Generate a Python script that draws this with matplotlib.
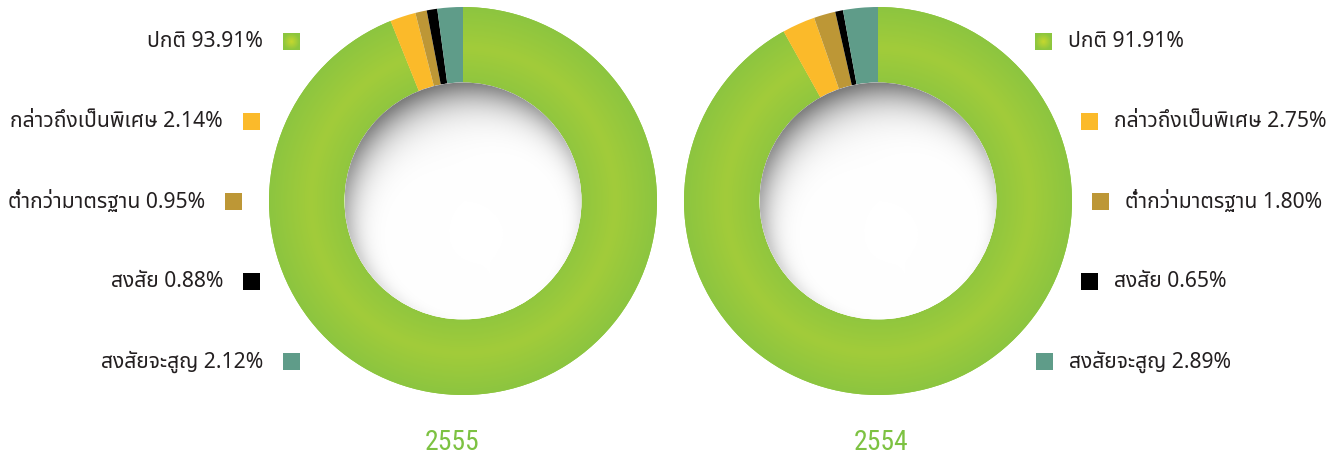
import numpy as np
import matplotlib
matplotlib.use('Agg')
import matplotlib.pyplot as plt
from matplotlib import font_manager
from matplotlib.patches import Wedge, Circle, Rectangle

# data
years = ['2555', '2554']
labels = ['ปกติ', 'กล่าวถึงเป็นพิเศษ', 'ต่ำกว่ามาตรฐาน', 'สงสัย', 'สงสัยจะสูญ']
vals_2555 = [93.91, 2.14, 0.95, 0.88, 2.12]
vals_2554 = [91.91, 2.75, 1.80, 0.65, 2.89]
colors = ['#8DC63F', '#FBBA2A', '#BD9736', '#000000', '#5F9C89']

# pick fonts that exist
names = {f.name for f in font_manager.fontManager.ttflist}
def pick(cands):
    for c in cands:
        if c in names:
            return c
    return 'DejaVu Sans'
thai_font = pick(['Noto Sans Thai', 'IBM Plex Sans Thai', 'Sarabun', 'Prompt'])
year_font = pick(['Roboto Condensed', 'Open Sans Condensed', 'Roboto'])

W, H = 1338, 461
fig = plt.figure(figsize=(W / 100, H / 100), dpi=100)
ax = fig.add_axes([0, 0, 1, 1])
ax.set_xlim(0, W)
ax.set_ylim(0, H)
ax.axis('off')

R_OUT = 194
R_IN = 118.5


def green_gradient(cx, cy, wedge):
    # radial shading on the big green slice
    x0, x1 = cx - R_OUT, cx + R_OUT
    y0, y1 = cy - R_OUT, cy + R_OUT
    xx, yy = np.meshgrid(np.linspace(x0, x1, 400), np.linspace(y0, y1, 400))
    r = np.hypot(xx - cx, yy - cy)
    t = np.clip((r - R_IN) / (R_OUT - R_IN), 0, 1)
    t = 1 - np.abs(t - 0.45) / 0.55
    c_edge = np.array([0x8C, 0xC5, 0x40]) / 255
    c_mid = np.array([0xA2, 0xCC, 0x3A]) / 255
    img = c_edge[None, None, :] * (1 - t[..., None]) + c_mid[None, None, :] * t[..., None]
    im = ax.imshow(img, extent=(x0, x1, y0, y1), origin='lower', zorder=2, interpolation='bilinear')
    im.set_clip_path(wedge)


def hole_shadow(cx, cy):
    # soft inner shadow, strongest at the top-left edge of the hole
    x0, x1 = cx - R_IN, cx + R_IN
    y0, y1 = cy - R_IN, cy + R_IN
    xx, yy = np.meshgrid(np.linspace(x0, x1, 500), np.linspace(y0, y1, 500))
    dx, dy = xx - cx, yy - cy
    d_edge = np.clip(R_IN - np.hypot(dx, dy), 0, None)
    ang = np.arctan2(dy, dx)
    dirf = np.clip(0.5 + 0.5 * np.cos(ang - np.radians(110)), 0, 1) ** 1.3
    k = 4 + 20 * dirf
    s = dirf * np.exp(-(d_edge / k) ** 1.3)
    g = 1 - 0.52 * s
    img = np.dstack([g, g, g])
    im = ax.imshow(img, extent=(x0, x1, y0, y1), origin='lower', zorder=4, interpolation='bilinear')
    circ = Circle((cx, cy), R_IN, transform=ax.transData)
    im.set_clip_path(circ)


def donut(cx, cy, vals):
    fracs = np.array(vals) / np.sum(vals)
    start = 90.0
    for i, f in enumerate(fracs):
        end = start - f * 360
        w = Wedge((cx, cy), R_OUT, end, start, width=R_OUT - R_IN,
                  facecolor=colors[i], edgecolor='none', zorder=3 if i else 1)
        ax.add_patch(w)
        if i == 0:
            green_gradient(cx, cy, w)
        start = end
    ax.add_patch(Circle((cx, cy), R_IN, facecolor='white', edgecolor='none', zorder=3.5))
    hole_shadow(cx, cy)


def square(x, ytop, color, green=False):
    y = H - ytop - 17
    if green:
        xx, yy = np.meshgrid(np.linspace(-1, 1, 40), np.linspace(-1, 1, 40))
        t = np.clip(np.hypot(xx, yy), 0, 1)
        c_in = np.array([0xC6, 0xD8, 0x2E]) / 255
        c_out = np.array([0x8C, 0xC6, 0x3F]) / 255
        img = c_in * (1 - t[..., None]) + c_out * t[..., None]
        ax.imshow(img, extent=(x, x + 17, y, y + 17), origin='lower', zorder=5, interpolation='bilinear')
    else:
        ax.add_patch(Rectangle((x, y), 17, 17, facecolor=color, edgecolor='none', zorder=5))


donut(463, H - 201, vals_2555)
donut(878, H - 201, vals_2554)

txt_kw = dict(fontsize=15.2, color='#231F20', va='center', family=[thai_font, 'DejaVu Sans'])

# legends: squares hug the ring, text outside them
left_sq_x = [283, 243, 225, 243, 283]
right_sq_x = [1035, 1081, 1092, 1081, 1036]
row_top = [33, 113, 193, 273, 353]
for i in range(5):
    sx = left_sq_x[i]
    square(sx, row_top[i], colors[i], green=(i == 0))
    ax.text(sx - 20, H - row_top[i] - 8.5, f'{labels[i]} {vals_2555[i]:.2f}%', ha='right', **txt_kw)

    sx = right_sq_x[i]
    square(sx, row_top[i], colors[i], green=(i == 0))
    ax.text(sx + 33, H - row_top[i] - 8.5, f'{labels[i]} {vals_2554[i]:.2f}%', ha='left', **txt_kw)

ax.text(452, H - 443, years[0], fontsize=20, color='#7DC242', ha='center', va='center', family=year_font)
ax.text(881, H - 443, years[1], fontsize=20, color='#7DC242', ha='center', va='center', family=year_font)

fig.savefig('out.png', dpi=100, facecolor='white')
